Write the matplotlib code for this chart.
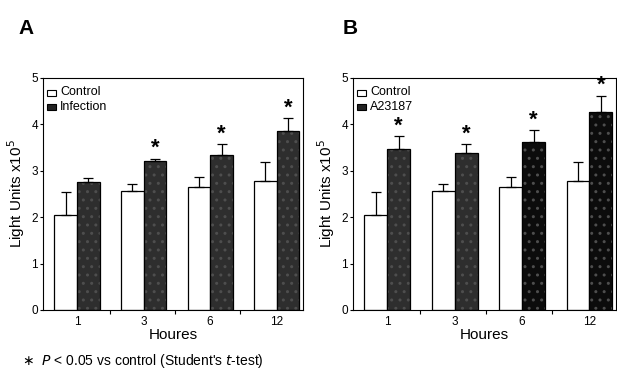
import numpy as np
import matplotlib.pyplot as plt

hours = ['1', '3', '6', '12']
control = [2.05, 2.57, 2.64, 2.77]
control_err = [0.49, 0.14, 0.23, 0.41]
infection = [2.76, 3.22, 3.35, 3.85]
infection_err = [0.08, 0.04, 0.22, 0.28]
a23187 = [3.47, 3.38, 3.62, 4.27]
a23187_err = [0.27, 0.19, 0.25, 0.35]

plt.rcParams['font.family'] = ['Liberation Sans', 'DejaVu Sans']

fig = plt.figure(figsize=(6.17, 3.72), dpi=100)
ax1 = fig.add_axes([0.0697, 0.1667, 0.421, 0.6237])
ax2 = fig.add_axes([0.572, 0.1667, 0.426, 0.6237])

x = np.arange(len(hours))
w = 0.34


def panel(ax, vals, errs, colors, label):
    ax.bar(x - w / 2, control, w, color='white', edgecolor='black', linewidth=0.9)
    ax.errorbar(x - w / 2, control, yerr=[np.zeros(4), control_err], fmt='none',
                ecolor='black', elinewidth=0.9, capsize=3.5, capthick=0.9)
    ax.bar(x + w / 2, vals, w, color=colors, edgecolor='#4e4e4e', hatch='..',
           linewidth=0)
    ax.bar(x + w / 2, vals, w, fill=False, edgecolor='black', linewidth=0.9)
    ax.errorbar(x + w / 2, vals, yerr=[np.zeros(4), errs], fmt='none',
                ecolor='black', elinewidth=0.9, capsize=3.5, capthick=0.9)
    ax.set_xlim(-0.51, 3.39)
    ax.set_ylim(0, 5)
    ax.set_yticks(range(6))
    ax.tick_params(axis='y', labelsize=8.5, length=2.5, width=0.8, pad=1)
    ax.set_xticks([0.49, 1.47, 2.45])
    ax.set_xticklabels([])
    ax.tick_params(axis='x', which='major', length=3, width=0.8)
    ax.set_xticks(x, minor=True)
    ax.set_xticklabels(hours, minor=True, fontsize=8.5)
    ax.tick_params(axis='x', which='minor', length=0, pad=4)
    ax.set_xlabel('Houres', fontsize=11, labelpad=0)
    ax.set_ylabel('Light Units x10$^5$', fontsize=11, labelpad=3)
    for s in ax.spines.values():
        s.set_linewidth(0.8)
    # legend squares
    ax.bar([-0.38], [0.13], 0.13, bottom=4.62, color='white', edgecolor='black',
           linewidth=0.8)
    ax.bar([-0.38], [0.13], 0.13, bottom=4.30, color='#222222', edgecolor='black',
           linewidth=0.8)
    ax.text(-0.25, 4.69, 'Control', fontsize=9, va='center')
    ax.text(-0.25, 4.37, label, fontsize=9, va='center')


panel(ax1, infection, infection_err, ['#2e2e2e'] * 4, 'Infection')
panel(ax2, a23187, a23187_err, ['#2e2e2e', '#2e2e2e', '#0c0c0c', '#0c0c0c'], 'A23187')

for i in [1, 2, 3]:
    ax1.text(x[i] + w / 2, infection[i] + infection_err[i], '*',
             fontsize=16, fontweight='bold', ha='center', va='bottom')
for i in range(4):
    ax2.text(x[i] + w / 2, a23187[i] + a23187_err[i], '*',
             fontsize=16, fontweight='bold', ha='center', va='bottom')

fig.text(18 / 617, 1 - 28 / 372, 'A', fontsize=15, fontweight='bold', va='center')
fig.text(343 / 617, 1 - 28 / 372, 'B', fontsize=15, fontweight='bold', va='center')
fig.text(22 / 617, 1 - 361 / 372,
         '$\\ast$  $P$ < 0.05 vs control (Student\'s $t$-test)',
         fontsize=10, va='center')

fig.savefig('out.png', dpi=100)
